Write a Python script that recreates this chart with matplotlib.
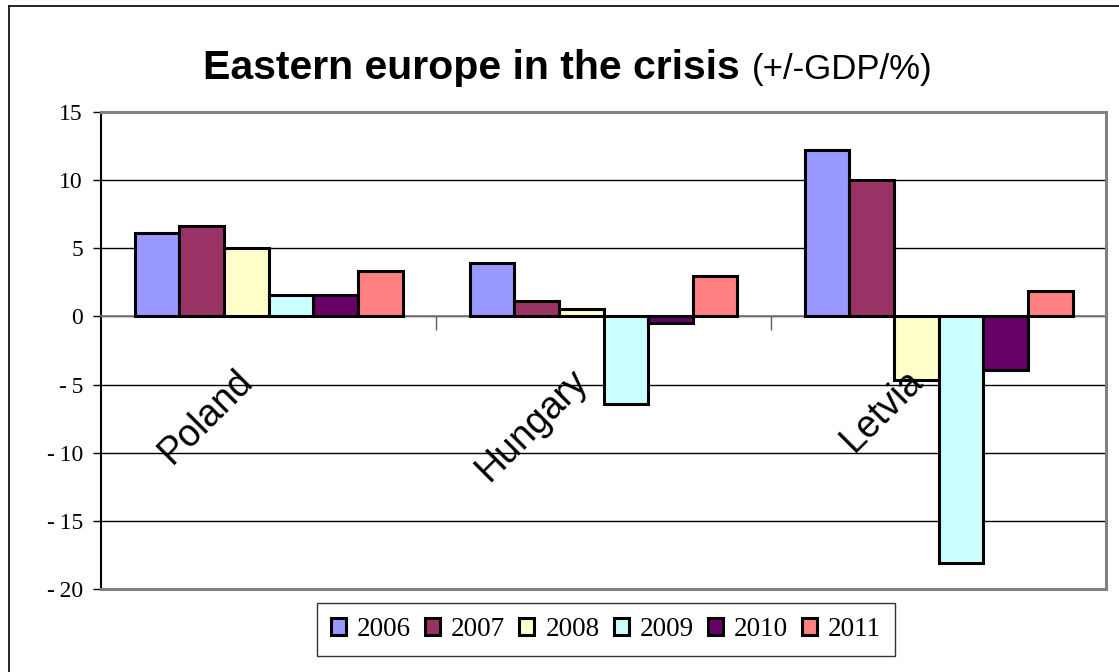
import matplotlib
matplotlib.use("Agg")
import matplotlib.pyplot as plt
import numpy as np
from matplotlib.lines import Line2D

countries = ["Poland", "Hungary", "Letvia"]
years = ["2006", "2007", "2008", "2009", "2010", "2011"]
v2006 = [6.1, 3.9, 12.2]
v2007 = [6.6, 1.1, 10.0]
v2008 = [5.0, 0.55, -4.7]
v2009 = [1.6, -6.4, -18.1]
v2010 = [1.6, -0.5, -3.9]
v2011 = [3.3, 3.0, 1.9]
series = [v2006, v2007, v2008, v2009, v2010, v2011]
colors = ["#9999FF", "#993366", "#FFFFCC", "#CCFFFF", "#660066", "#FF8080"]
yticks = [15, 10, 5, 0, -5, -10, -15, -20]

W, H = 1119, 672
fig = plt.figure(figsize=(W / 100, H / 100), dpi=100)
ax = fig.add_axes([101 / W, 1 - 589 / H, (1106 - 101) / W, (589 - 112) / H])

n = len(series)
group = 0.8
bw = group / n
x = np.arange(len(countries))
for k, (vals, c, yr) in enumerate(zip(series, colors, years)):
    ax.bar(x - group / 2 + bw * (k + 0.5), vals, width=bw, color=c,
           edgecolor="black", linewidth=2.2, label=yr, zorder=3)

ax.set_xlim(-0.5, len(countries) - 0.5)
ax.set_ylim(-20, 15)
ax.set_yticks(yticks)
ax.set_yticklabels([("-\u2009" + str(-t)) if t < 0 else str(t) for t in yticks],
                   fontfamily=["Liberation Serif", "DejaVu Serif"], fontsize=17)
ax.tick_params(axis="y", direction="out", length=6, width=1, color="black", pad=7)
ax.set_axisbelow(True)
ax.yaxis.grid(True, color="black", linewidth=1)

# category axis at zero
ax.spines["bottom"].set_position(("data", 0))
ax.spines["bottom"].set_color("#808080")
ax.spines["bottom"].set_linewidth(1.2)
ax.set_xticks(list(x[:-1] + 0.5) + [len(countries) - 0.5])
ax.tick_params(axis="x", direction="out", length=10, width=1, color="#606060", labelbottom=False)
for s in ["top", "right"]:
    ax.spines[s].set_color("#808080")
    ax.spines[s].set_linewidth(2.2)
ax.spines["left"].set_color("black")
ax.spines["left"].set_linewidth(1.5)
ax.add_line(Line2D([0, 1], [0, 0], transform=ax.transAxes, color="#808080",
                   linewidth=2.2, clip_on=False, zorder=5))

for i, name in enumerate(countries):
    ax.text(i - 0.1, -3.4, name, rotation=45, rotation_mode="anchor",
            ha="right", va="top", fontfamily="Liberation Sans", fontsize=27, zorder=6)

# title
fig.text(740 / W, 1 - 79 / H, "Eastern europe in the crisis", ha="right", va="baseline",
         fontfamily="Liberation Sans", fontweight="bold", fontsize=29.5)
fig.text(752 / W, 1 - 79 / H, "(+/-GDP/%)", ha="left", va="baseline",
         fontfamily="Liberation Sans", fontsize=25)

# outer frame
fig.add_artist(Line2D([9 / W, 9 / W], [0, 1 - 6 / H], transform=fig.transFigure, color="black", lw=1.2))
fig.add_artist(Line2D([9 / W, 1], [1 - 6 / H, 1 - 6 / H], transform=fig.transFigure, color="black", lw=1.2))

leg = fig.legend(loc="center", bbox_to_anchor=((316 + 896) / 2 / W, 1 - 629.5 / H), ncol=6,
                 prop={"family": "Liberation Serif", "size": 19.5},
                 handlelength=0.56, handleheight=0.6, handletextpad=0.4,
                 columnspacing=0.52, borderpad=0.52, frameon=True, fancybox=False)
leg.get_frame().set_edgecolor("black")
leg.get_frame().set_linewidth(1.0)

fig.savefig("out.png", dpi=100)
